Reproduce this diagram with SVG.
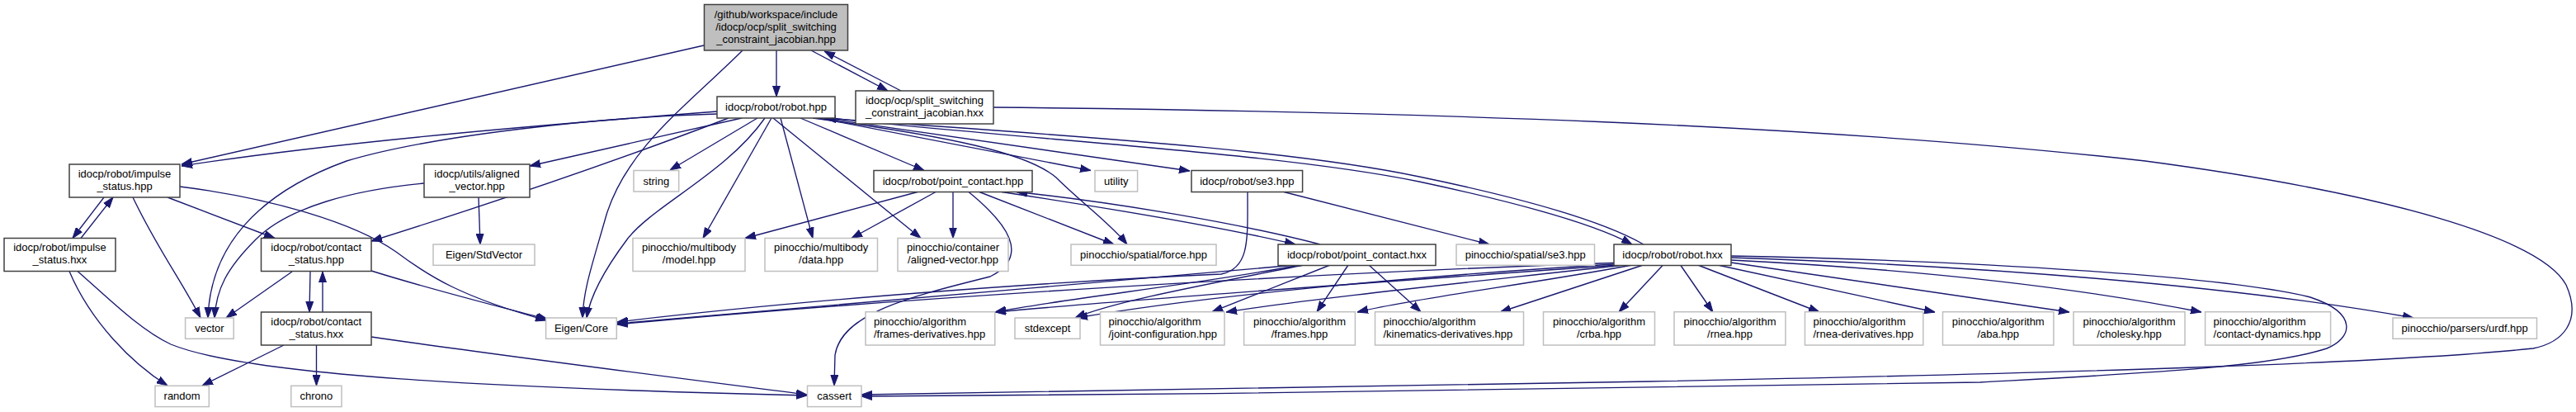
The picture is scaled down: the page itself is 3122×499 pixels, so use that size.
<svg xmlns="http://www.w3.org/2000/svg" width="3122" height="499" viewBox="0 0 3122 499">
<style>
.n rect{fill:#fff;stroke:#404040;stroke-width:1.5}
.x rect{fill:#fff;stroke:#bfbfbf;stroke-width:1.5}
.r rect{fill:#bfbfbf;stroke:#404040;stroke-width:1.5}
text{font-family:"Liberation Sans",Arial,Helvetica,sans-serif;font-size:13px;fill:#000;text-anchor:middle}
text.l{text-anchor:start}
#edges path{fill:none;stroke:#191970;stroke-width:1.35;marker-end:url(#a)}
</style>
<defs>
<marker id="a" viewBox="0 0 13 10" refX="13" refY="5" markerWidth="13" markerHeight="10" markerUnits="userSpaceOnUse" orient="auto">
<path d="M0,0.5 L13,5 L0,9.5 z" fill="#191970" stroke="#191970" stroke-width="1"/>
</marker>
</defs>
<rect width="3122" height="499" fill="#fff"/>
<g id="edges">
<path d="M853,55 L220,199"/>
<path d="M900,61 C830,130 760,180 735,260 C718,320 707,350 706,385"/>
<path d="M941,61 L941,117"/>
<path d="M983,61 L1076,110"/>
<path d="M1092,110 L999,62"/>
<path d="M869,135 C700,148 420,170 220,201"/>
<path d="M869,138 C720,142 520,165 420,195 C310,235 255,300 252,385"/>
<path d="M883,143 C760,190 600,245 450,292"/>
<path d="M899,143 L642,201"/>
<path d="M918,143 L812,206"/>
<path d="M927,143 C880,210 790,250 760,290 C730,330 715,360 711,385"/>
<path d="M935,143 L852,288.5"/>
<path d="M946,143 L985,288.5"/>
<path d="M937,143 L1116,288.5"/>
<path d="M970,143 L1120,206.5"/>
<path d="M985,143 C1150,165 1245,185 1280,215 C1310,245 1345,270 1366,296"/>
<path d="M992,143 L1322,206.5"/>
<path d="M998,143 L1442,207"/>
<path d="M1008,143 C1250,170 1550,185 1720,220 C1870,252 1945,278 1978,296"/>
<path d="M1992,296 C1950,272 1870,245 1720,214 C1550,178 1250,162 1000,143"/>
<path d="M1204,130 C1700,135 2200,150 2600,195 C2900,235 3080,290 3110,345 C3130,390 3105,415 3070,422 C2900,440 2500,452 2000,462 C1600,470 1300,476 1044,478"/>
<path d="M2098,310 C2400,316 2700,335 2800,360 C2860,380 2850,410 2820,422 C2750,445 2600,452 2400,463 C2000,470 1500,478 1044,480"/>
<path d="M2098,312 C2400,322 2700,345 2925,385"/>
<path d="M2098,315 C2300,325 2500,345 2668,378"/>
<path d="M2098,318 L2508,378"/>
<path d="M2084,321.5 L2345,378"/>
<path d="M2059,321.5 L2205,378"/>
<path d="M2037,321.5 L2076,378"/>
<path d="M2015,321.5 L1962,378"/>
<path d="M1990,321.5 L1818,378"/>
<path d="M1978,321 C1850,345 1720,360 1645,378"/>
<path d="M1976,320 C1800,340 1600,360 1486,378"/>
<path d="M1974,320 C1700,340 1400,360 1206,378"/>
<path d="M1972,319 C1700,335 1450,360 1305,385"/>
<path d="M1970,318 C1600,330 1100,360 748,393"/>
<path d="M1600,296 C1500,270 1350,245 1232,232.5"/>
<path d="M1214,232.5 C1330,250 1480,275 1570,296"/>
<path d="M1570,321 C1300,345 1000,370 748,392"/>
<path d="M1575,321 C1450,345 1300,360 1206,378"/>
<path d="M1580,321 C1460,345 1350,365 1303,385"/>
<path d="M1612,321 L1469,377.7"/>
<path d="M1634,321 L1596,377.7"/>
<path d="M1659,321 L1722,377.7"/>
<path d="M1112,232.5 L903,288.5"/>
<path d="M1134,232.5 L1032,288.5"/>
<path d="M1155,232.5 L1155,288.5"/>
<path d="M1187,232.5 L1350,296"/>
<path d="M1174,232.5 C1220,270 1250,310 1200,335 C1100,360 1020,380 1012,430 L1011,467"/>
<path d="M1556,232.5 L1805,296"/>
<path d="M1512,232.5 C1512,290 1515,325 1480,332 C1300,340 1000,360 748,390"/>
<path d="M126,239 L88,288.5"/>
<path d="M98,288.5 L137,239"/>
<path d="M161,239 C190,300 220,340 243,385"/>
<path d="M203,239 L333,288.5"/>
<path d="M218,226 C330,240 430,270 480,305 C520,335 560,360 662,388"/>
<path d="M84,328.5 C110,390 160,440 203,467"/>
<path d="M94,328.5 C130,360 170,400 207,417 C300,455 600,470 978,479"/>
<path d="M354,329 L274,385"/>
<path d="M376,329 L375,378"/>
<path d="M391,378 L391,329"/>
<path d="M450,328 C520,350 600,370 664,387"/>
<path d="M344,418 L245,467"/>
<path d="M383.5,418 L383.5,467"/>
<path d="M450,408 C600,430 800,455 978,478"/>
<path d="M514,222 C430,230 350,250 310,290 C275,325 262,350 260,385"/>
<path d="M580,239 L582,296"/>
</g>
<g id="root" class="r"><rect x="853.5" y="5.5" width="174" height="55.5"/><text x="940.5" y="21.5">/github/workspace/include</text><text x="940.5" y="36.5">/idocp/ocp/split_switching</text><text x="940.5" y="51.5">_constraint_jacobian.hpp</text></g>
<g id="robot_hpp" class="n"><rect x="869" y="117" width="143" height="26"/><text x="940.5" y="134">idocp/robot/robot.hpp</text></g>
<g id="sscj_hxx" class="n"><rect x="1037" y="110" width="167" height="40"/><text x="1120.5" y="125.5">idocp/ocp/split_switching</text><text x="1120.5" y="140.5">_constraint_jacobian.hxx</text></g>
<g id="impulse_hpp" class="n"><rect x="84" y="199" width="134" height="40"/><text x="151" y="214.5">idocp/robot/impulse</text><text x="151" y="229.5">_status.hpp</text></g>
<g id="impulse_hxx" class="n"><rect x="5" y="288.5" width="135" height="40"/><text x="72.5" y="304">idocp/robot/impulse</text><text x="72.5" y="319">_status.hxx</text></g>
<g id="contact_hpp" class="n"><rect x="316.5" y="288.5" width="133.5" height="40"/><text x="383.3" y="304">idocp/robot/contact</text><text x="383.3" y="319">_status.hpp</text></g>
<g id="contact_hxx" class="n"><rect x="316.5" y="378" width="133.5" height="40"/><text x="383.3" y="393.5">idocp/robot/contact</text><text x="383.3" y="408.5">_status.hxx</text></g>
<g id="aligned_vector" class="n"><rect x="514" y="199" width="128" height="40"/><text x="578" y="214.5">idocp/utils/aligned</text><text x="578" y="229.5">_vector.hpp</text></g>
<g id="stdvector" class="x"><rect x="525" y="296" width="123" height="25.3"/><text x="586.5" y="313">Eigen/StdVector</text></g>
<g id="vector" class="x"><rect x="224.6" y="385" width="58.6" height="25.3"/><text x="253.9" y="402">vector</text></g>
<g id="random" class="x"><rect x="188" y="467.3" width="65.3" height="25.3"/><text x="220.6" y="484.3">random</text></g>
<g id="chrono" class="x"><rect x="352.8" y="467.3" width="61.2" height="25.3"/><text x="383.4" y="484.3">chrono</text></g>
<g id="string" class="x"><rect x="768" y="206.5" width="54.7" height="25.5"/><text x="795.3" y="223.5">string</text></g>
<g id="model" class="x"><rect x="767" y="288.5" width="136" height="40"/><text x="835" y="304">pinocchio/multibody</text><text x="835" y="319">/model.hpp</text></g>
<g id="data" class="x"><rect x="927" y="288.5" width="136.5" height="40"/><text x="995.2" y="304">pinocchio/multibody</text><text x="995.2" y="319">/data.hpp</text></g>
<g id="container" class="x"><rect x="1088" y="288.5" width="134" height="40"/><text x="1155" y="304">pinocchio/container</text><text x="1155" y="319">/aligned-vector.hpp</text></g>
<g id="eigen_core" class="x"><rect x="661.6" y="385" width="85.7" height="25.3"/><text x="704.4" y="402">Eigen/Core</text></g>
<g id="cassert" class="x"><rect x="978.5" y="467.3" width="65.5" height="25.3"/><text x="1011.2" y="484.3">cassert</text></g>
<g id="point_contact_hpp" class="n"><rect x="1059" y="206.5" width="192" height="26"/><text x="1155" y="223.5">idocp/robot/point_contact.hpp</text></g>
<g id="utility" class="x"><rect x="1327" y="206.5" width="51.6" height="25.5"/><text x="1352.8" y="223.5">utility</text></g>
<g id="se3_hpp" class="n"><rect x="1444" y="206.5" width="134.6" height="26"/><text x="1511.3" y="223.5">idocp/robot/se3.hpp</text></g>
<g id="force" class="x"><rect x="1298" y="296" width="176" height="25.3"/><text x="1386" y="313">pinocchio/spatial/force.hpp</text></g>
<g id="point_contact_hxx" class="n"><rect x="1549" y="296" width="191" height="25.5"/><text x="1644.5" y="313">idocp/robot/point_contact.hxx</text></g>
<g id="spatial_se3" class="x"><rect x="1765" y="296" width="167.5" height="25.3"/><text x="1848.7" y="313">pinocchio/spatial/se3.hpp</text></g>
<g id="robot_hxx" class="n"><rect x="1956" y="296" width="142" height="25.5"/><text x="2027" y="313">idocp/robot/robot.hxx</text></g>
<g id="frames_derivatives" class="x"><rect x="1049" y="377.7" width="156.8" height="40.3"/><text class="l" x="1059" y="393.5">pinocchio/algorithm</text><text class="l" x="1059" y="408.5">/frames-derivatives.hpp</text></g>
<g id="stdexcept" class="x"><rect x="1230" y="385" width="79" height="25.3"/><text x="1269.5" y="402">stdexcept</text></g>
<g id="joint_configuration" class="x"><rect x="1333.5" y="377.7" width="150.5" height="40.3"/><text class="l" x="1343.5" y="393.5">pinocchio/algorithm</text><text class="l" x="1343.5" y="408.5">/joint-configuration.hpp</text></g>
<g id="frames" class="x"><rect x="1507.6" y="377.7" width="134.8" height="40.3"/><text x="1575" y="393.5">pinocchio/algorithm</text><text x="1575" y="408.5">/frames.hpp</text></g>
<g id="kinematics_derivatives" class="x"><rect x="1666.5" y="377.7" width="180" height="40.3"/><text class="l" x="1676.5" y="393.5">pinocchio/algorithm</text><text class="l" x="1676.5" y="408.5">/kinematics-derivatives.hpp</text></g>
<g id="crba" class="x"><rect x="1870.5" y="377.7" width="135" height="40.3"/><text x="1938" y="393.5">pinocchio/algorithm</text><text x="1938" y="408.5">/crba.hpp</text></g>
<g id="rnea" class="x"><rect x="2029" y="377.7" width="135" height="40.3"/><text x="2096.5" y="393.5">pinocchio/algorithm</text><text x="2096.5" y="408.5">/rnea.hpp</text></g>
<g id="rnea_derivatives" class="x"><rect x="2187.5" y="377.7" width="143.3" height="40.3"/><text class="l" x="2197.5" y="393.5">pinocchio/algorithm</text><text class="l" x="2197.5" y="408.5">/rnea-derivatives.hpp</text></g>
<g id="aba" class="x"><rect x="2354.5" y="377.7" width="134.4" height="40.3"/><text x="2421.7" y="393.5">pinocchio/algorithm</text><text x="2421.7" y="408.5">/aba.hpp</text></g>
<g id="cholesky" class="x"><rect x="2513" y="377.7" width="135" height="40.3"/><text x="2580.5" y="393.5">pinocchio/algorithm</text><text x="2580.5" y="408.5">/cholesky.hpp</text></g>
<g id="contact_dynamics" class="x"><rect x="2672.6" y="377.7" width="152" height="40.3"/><text class="l" x="2682.6" y="393.5">pinocchio/algorithm</text><text class="l" x="2682.6" y="408.5">/contact-dynamics.hpp</text></g>
<g id="urdf" class="x"><rect x="2900" y="385" width="174.5" height="25.3"/><text x="2987.2" y="402">pinocchio/parsers/urdf.hpp</text></g>
</svg>
